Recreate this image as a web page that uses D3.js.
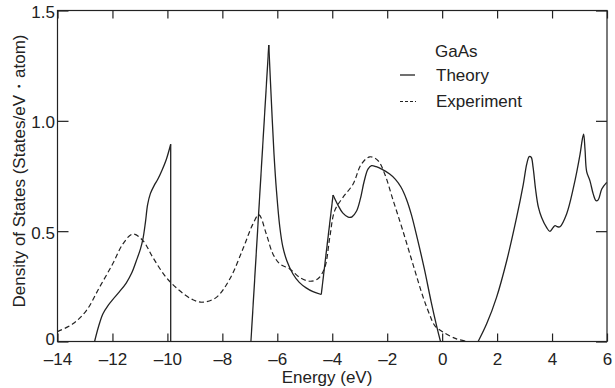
<!DOCTYPE html>
<html>
<head>
<meta charset="utf-8">
<script src="https://cdn.jsdelivr.net/npm/d3@7"></script>
<style>
  html, body { margin: 0; padding: 0; background: #fff; }
  svg { display: block; }
  text { font-family: "Liberation Sans", Arial, sans-serif; fill: #222; }
</style>
</head>
<body>
<svg id="chart" width="615" height="388"></svg>
<script>
// ---- Data ----
const xTicks = [-14, -12, -10, -8, -6, -4, -2, 0, 2, 4, 6];
const yTicks = [0, 0.5, 1.0, 1.5];
const yTickLabels = ["0", "0.5", "1.0", "1.5"];

// Theory: lower valence band (ends with sharp edge at about -9.9 eV)
const theoryBand1 = [
  [-12.65, 0], [-12.50, 0.07], [-12.35, 0.125], [-12.15, 0.165], [-11.99, 0.19], [-11.75, 0.225],
  [-11.50, 0.265], [-11.30, 0.31], [-11.13, 0.366], [-10.98, 0.42],
  [-10.89, 0.465], [-10.80, 0.54], [-10.72, 0.62], [-10.62, 0.67], [-10.47, 0.71],
  [-10.35, 0.735], [-10.20, 0.775], [-10.04, 0.825], [-9.88, 0.894], [-9.88, 0]
];
// Theory: upper valence band
const theoryBand2 = [
  [-6.96, 0], [-6.31, 1.344], [-6.22, 1.10], [-6.12, 0.85], [-6.03, 0.683], [-5.91, 0.52],
  [-5.80, 0.43], [-5.65, 0.365], [-5.43, 0.306], [-5.20, 0.268], [-4.95, 0.243], [-4.70, 0.226], [-4.40, 0.213],
  [-3.97, 0.664], [-3.80, 0.62], [-3.62, 0.583], [-3.42, 0.564], [-3.28, 0.565], [-3.12, 0.59],
  [-2.98, 0.645], [-2.84, 0.725], [-2.70, 0.781], [-2.57, 0.797], [-2.40, 0.792], [-2.20, 0.781], [-1.91, 0.759],
  [-1.70, 0.735], [-1.50, 0.70], [-1.30, 0.645], [-1.12, 0.575], [-0.90, 0.465], [-0.65, 0.33], [-0.40, 0.18],
  [-0.20, 0.07], [-0.06, 0]
];
// Theory: conduction band
const theoryBand3 = [
  [1.31, 0], [1.62, 0.08], [1.98, 0.2], [2.35, 0.366], [2.71, 0.562], [2.95, 0.71],
  [3.08, 0.805], [3.17, 0.838], [3.24, 0.835], [3.31, 0.789], [3.40, 0.69], [3.50, 0.61], [3.62, 0.562],
  [3.80, 0.517], [3.92, 0.499], [4.03, 0.515], [4.11, 0.525], [4.20, 0.52], [4.29, 0.52], [4.53, 0.578],
  [4.78, 0.698], [5.02, 0.849], [5.10, 0.915], [5.15, 0.94], [5.20, 0.87], [5.26, 0.77],
  [5.38, 0.728], [5.50, 0.668], [5.60, 0.638], [5.68, 0.642], [5.81, 0.691], [5.99, 0.721]
];
// Experiment
const experiment = [
  [-14.0, 0.045], [-13.44, 0.08], [-12.95, 0.14], [-12.47, 0.246], [-11.99, 0.352],
  [-11.62, 0.442], [-11.26, 0.487], [-10.89, 0.457], [-10.53, 0.381], [-10.04, 0.29],
  [-9.56, 0.231], [-9.07, 0.189], [-8.71, 0.178], [-8.22, 0.2], [-7.73, 0.283],
  [-7.25, 0.42], [-6.89, 0.532], [-6.67, 0.574], [-6.40, 0.487], [-6.16, 0.397],
  [-5.91, 0.352], [-5.55, 0.329], [-5.18, 0.29], [-4.82, 0.273], [-4.52, 0.284],
  [-4.27, 0.336], [-4.09, 0.472], [-3.91, 0.593], [-3.61, 0.653], [-3.24, 0.714],
  [-2.94, 0.804], [-2.63, 0.837], [-2.33, 0.819], [-2.09, 0.759], [-1.78, 0.638],
  [-1.45, 0.51], [-1.05, 0.345], [-0.69, 0.20], [-0.45, 0.12], [-0.27, 0.072],
  [0.04, 0.042], [0.52, 0.012], [0.95, 0]
];
// Energies where the theory curve has a sharp corner (not smoothed)
const theoryCorners = [-9.88, -6.96, -6.31, -4.40, -3.97];

const legendTitle = "GaAs";
const seriesNames = ["Theory", "Experiment"];

// ---- Layout ----
const svg = d3.select("#chart");
const margin = { left: 57.5, right: 8, top: 10.5, bottom: 46.5 };
const W = 615, H = 388;
const x = d3.scaleLinear().domain([-14, 6]).range([margin.left, W - margin.right]);
const y = d3.scaleLinear().domain([0, 1.5]).range([H - margin.bottom, margin.top]);

const ink = "#222";
const fontSize = 17;

// Frame
svg.append("rect")
  .attr("x", x(-14)).attr("y", y(1.5))
  .attr("width", x(6) - x(-14)).attr("height", y(0) - y(1.5))
  .attr("fill", "none").attr("stroke", ink).attr("stroke-width", 1.2);

// Axes with inward ticks
const xAxisB = d3.axisBottom(x).tickValues(xTicks).tickSize(-8).tickPadding(11.5)
  .tickFormat(d => d < 0 ? "\u2013" + Math.abs(d) : String(d));
const gxb = svg.append("g").attr("transform", `translate(0,${y(0)})`).call(xAxisB);
const xAxisT = d3.axisTop(x).tickValues(xTicks).tickSize(-8).tickFormat("");
const gxt = svg.append("g").attr("transform", `translate(0,${y(1.5)})`).call(xAxisT);
const yAxisL = d3.axisLeft(y).tickValues(yTicks).tickSize(-11).tickPadding(2.5)
  .tickFormat((d, i) => yTickLabels[i]);
const gyl = svg.append("g").attr("transform", `translate(${x(-14)},0)`).call(yAxisL);
const yAxisR = d3.axisRight(y).tickValues(yTicks).tickSize(-11).tickFormat("");
const gyr = svg.append("g").attr("transform", `translate(${x(6)},0)`).call(yAxisR);

[gxb, gxt, gyl, gyr].forEach(g => {
  g.select(".domain").remove();
  g.selectAll(".tick line").attr("stroke", ink).attr("stroke-width", 1.2);
  g.selectAll(".tick text").attr("font-size", fontSize).attr("fill", ink)
    .style("font-family", "'Liberation Sans', Arial, sans-serif");
});
gyl.selectAll(".tick text").attr("dy", d => d === 0 ? "0.2em" : "0.42em");

// Lines
const smooth = d3.line().x(d => x(d[0])).y(d => y(d[1])).curve(d3.curveCatmullRom.alpha(0.5));

// split a series into runs at sharp corners; each run is smoothed separately
function splitAtCorners(data, corners) {
  const runs = [];
  let cur = [];
  data.forEach((p, i) => {
    cur.push(p);
    const isCorner = corners.includes(p[0]) && i > 0 && i < data.length - 1;
    if (isCorner) { runs.push(cur); cur = [p]; }
  });
  if (cur.length > 1) runs.push(cur);
  return runs;
}

const plot = svg.append("g");
[theoryBand1, theoryBand2, theoryBand3].forEach(band => {
  splitAtCorners(band, theoryCorners).forEach(run => {
    plot.append("path").datum(run).attr("d", smooth)
      .attr("fill", "none").attr("stroke", ink).attr("stroke-width", 1.3)
      .attr("stroke-linejoin", "round");
  });
});
plot.append("path").datum(experiment).attr("d", smooth)
  .attr("fill", "none").attr("stroke", ink).attr("stroke-width", 1.2)
  .attr("stroke-dasharray", "5,3");

// Legend
const lg = svg.append("g");
lg.append("text").attr("x", 435).attr("y", 57).attr("font-size", fontSize).text(legendTitle);
lg.append("line").attr("x1", 400).attr("x2", 415).attr("y1", 75).attr("y2", 75)
  .attr("stroke", ink).attr("stroke-width", 1.3);
lg.append("text").attr("x", 436).attr("y", 81).attr("font-size", fontSize).text(seriesNames[0]);
lg.append("line").attr("x1", 400).attr("x2", 416).attr("y1", 101.5).attr("y2", 101.5)
  .attr("stroke", ink).attr("stroke-width", 1.2).attr("stroke-dasharray", "3,2");
lg.append("text").attr("x", 436).attr("y", 107).attr("font-size", fontSize).text(seriesNames[1]);

// Axis titles
svg.append("text")
  .attr("x", 327).attr("y", 383)
  .attr("text-anchor", "middle").attr("font-size", fontSize)
  .text("Energy (eV)");
svg.append("text")
  .attr("transform", `translate(24.5,171) rotate(-90)`)
  .attr("text-anchor", "middle").attr("font-size", fontSize)
  .text("Density of States (States/eV\u30FBatom)");
</script>
</body>
</html>
